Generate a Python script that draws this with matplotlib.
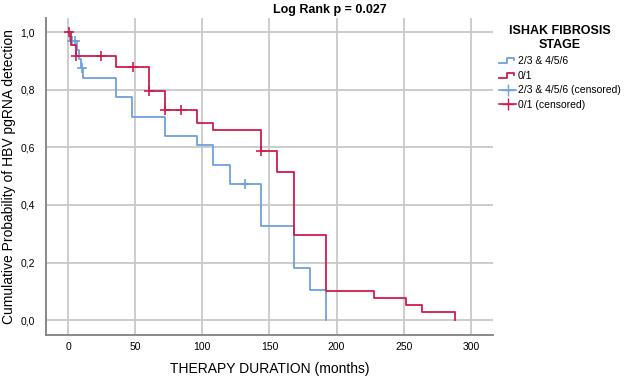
import numpy as np
import matplotlib.pyplot as plt
from matplotlib.lines import Line2D
from matplotlib.legend_handler import HandlerBase

plt.rcParams['font.family'] = ['Liberation Sans', 'DejaVu Sans']

# Datos (curvas Kaplan-Meier)
t_blue = [0, 1.5, 7, 8.5, 9.5, 11.5, 36, 48, 72, 96, 108, 120.5, 144, 168, 180, 192]
s_blue = [1.0, 0.971, 0.94, 0.906, 0.875, 0.843, 0.777, 0.707, 0.64, 0.608, 0.539,
          0.473, 0.328, 0.182, 0.105, 0.0]
cens_t_blue = [3, 5, 10.2, 132]
cens_s_blue = [0.971, 0.971, 0.875, 0.473]

t_red = [0, 2.2, 6, 36, 60, 72, 96, 108, 144, 156, 168, 192, 228, 252, 264, 288]
s_red = [1.0, 0.957, 0.919, 0.88, 0.797, 0.730, 0.685, 0.661, 0.589, 0.516, 0.296,
         0.10, 0.075, 0.051, 0.027, 0.0]
cens_t_red = [1, 6, 24.3, 48.6, 60, 72, 84, 144]
cens_s_red = [1.0, 0.919, 0.919, 0.88, 0.797, 0.730, 0.730, 0.589]

labels = ['2/3 & 4/5/6', '0/1', '2/3 & 4/5/6 (censored)', '0/1 (censored)']
c_blue = '#6fa0de'
c_red = '#d01c4b'


class StepHandler(HandlerBase):
    # dibuja el glifo escalonado de la leyenda
    def create_artists(self, legend, orig_handle, xdescent, ydescent,
                       width, height, fontsize, trans):
        w, h = width, height
        x0 = -xdescent
        xs = [x0, x0 + 0.45 * w, x0 + 0.45 * w, x0 + 0.85 * w, x0 + 0.85 * w]
        ys = [0.1 * h, 0.1 * h, 0.8 * h, 0.8 * h, 0.5 * h]
        ln = Line2D(xs, ys, color=orig_handle.get_color(), lw=1.3)
        ln.set_transform(trans)
        return [ln]


fig = plt.figure(figsize=(6.24, 3.79), dpi=100)
ax = fig.add_axes([0.0737, 0.1161, 0.7163, 0.8364])

ax.step(t_blue, s_blue, where='post', color=c_blue, lw=1.3, zorder=3)
ax.step(t_red, s_red, where='post', color=c_red, lw=1.3, zorder=4)
ax.plot(cens_t_blue, cens_s_blue, ls='none', marker='+', ms=7, mew=1.2, color=c_blue, zorder=3)
ax.plot(cens_t_red, cens_s_red, ls='none', marker='+', ms=7, mew=1.2, color=c_red, zorder=4)

ax.set_xlim(-16.4, 316.5)
ax.set_ylim(-0.052, 1.05)
ax.set_xticks([0, 50, 100, 150, 200, 250, 300])
ax.set_yticks([0.0, 0.2, 0.4, 0.6, 0.8, 1.0])
ax.set_yticklabels(['0,0', '0,2', '0,4', '0,6', '0,8', '1,0'])
ax.tick_params(length=0, labelsize=7.5)
ax.tick_params(axis='x', pad=5)
ax.tick_params(axis='y', pad=8)
ax.grid(True, color='#c8c8c8', lw=1.3)
ax.set_axisbelow(True)
for s in ['top', 'right']:
    ax.spines[s].set_visible(False)
for s in ['left', 'bottom']:
    ax.spines[s].set_color('#808080')
    ax.spines[s].set_linewidth(1.3)

ax.set_xlabel('THERAPY DURATION (months)', fontsize=10, labelpad=7)
ax.set_ylabel('Cumulative Probability of HBV pgRNA detection', fontsize=10, labelpad=3)
fig.text(330 / 624, 1 - 10 / 379, 'Log Rank p = 0.027', ha='center', va='center',
         fontsize=9, fontweight='bold')

handles = [Line2D([], [], color=c_blue), Line2D([], [], color=c_red),
           Line2D([], [], color=c_blue, marker='+', ms=8, lw=1.2),
           Line2D([], [], color=c_red, marker='+', ms=8, lw=1.2)]
leg = fig.legend(handles, labels, loc='upper left', bbox_to_anchor=(490 / 624, 1 - 16 / 379),
                 frameon=False, fontsize=7.5, title='ISHAK FIBROSIS\nSTAGE',
                 title_fontproperties={'weight': 'bold', 'size': 9},
                 handlelength=1.6, handletextpad=0.2, labelspacing=0.45,
                 handler_map={handles[0]: StepHandler(), handles[1]: StepHandler()})
leg.get_title().set_multialignment('center')

fig.savefig('out.png', dpi=100)
